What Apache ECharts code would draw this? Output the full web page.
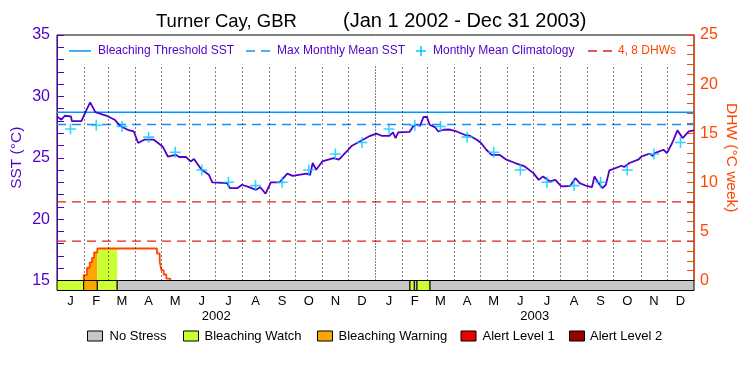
<!DOCTYPE html>
<html><head><meta charset="utf-8">
<script src="https://cdn.jsdelivr.net/npm/echarts@6/dist/echarts.min.js"></script>
<style>html,body{margin:0;padding:0;background:#fff}#c{width:750px;height:375px}</style>
</head><body><div id="c"></div>
<script>
// ---------- data ----------
const monthLetters = ['J','F','M','A','M','J','J','A','S','O','N','D'];
const monthLengths = [31,28,31,30,31,30,31,31,30,31,30,31];
const years = ['2002','2003'];
const sstDays = [0,2,5,9,16,17,28,33,38,44,57,66,72,81,88,93,100,111,121,127,136,140,148,153,157,165,174,178,195,198,207,212,220,228,233,239,245,255,264,270,286,290,293,297,304,317,323,332,338,347,359,366,372,381,385,388,391,404,408,412,416,420,424,427,433,437,443,450,458,467,473,481,486,492,498,507,515,525,536,546,552,557,565,571,578,588,594,599,607,613,616,620,625,629,633,637,647,650,656,666,670,679,683,685,695,699,705,711,717,724,730];
const sstVals = [28.37,28.5,28.1,28.42,28.37,27.99,27.99,28.77,29.51,28.72,28.42,28.1,27.61,27.28,27.14,26.2,26.47,26.47,25.92,25.1,25.24,25.06,25.06,24.7,24.9,24.08,23.62,22.99,22.94,22.53,22.53,22.8,22.6,22.39,22.6,22.07,22.99,22.99,23.7,23.53,23.7,23.6,24.57,24.02,24.7,24.97,24.84,25.51,25.98,26.33,26.79,26.96,26.79,26.79,27.06,26.6,27.06,27.1,27.55,27.69,27.6,28.32,28.32,27.69,27.5,27.14,27.28,27.3,27.14,26.87,26.8,26.47,26.2,25.65,25.24,25.24,24.84,24.57,24.29,23.75,23.2,23.48,23.07,23.2,22.66,22.7,23.34,22.93,22.7,22.6,23.48,22.99,22.53,22.8,23.97,24.07,24.35,24.25,24.57,24.84,25.1,25.33,25.15,25.38,25.65,25.38,26.2,27.23,26.6,27.14,27.23];
const climVals = [27.35,27.65,27.55,26.68,25.45,24.0,23.0,22.73,23.0,24.0,25.3,26.25];
const bleachThreshold = 28.7;
const maxMonthlyMean = 27.7;
const dhwLevels = [4, 8];
const dhwDays = [30.6,30.6,34.4,37.5,40.1,42.5,46.2,114.6,117.7,119.6,122.2,125.3,129.9];
const dhwVals = [0,0.55,1.3,1.85,2.3,2.85,3.26,2.75,1.9,1.06,0.61,0.2,0];
const stressStart = [0,30.6,46.2,69,404.5,409.5,412.6,427.5];
const stressEnd   = [30.6,46.2,69,404.5,409.5,412.6,427.5,730];
const stressLevel = [1,2,1,0,1,0,1,0];
const stressNames = ['No Stress','Bleaching Watch','Bleaching Warning','Alert Level 1','Alert Level 2'];

// ---------- styling ----------
const FONT = '"Liberation Sans", Arial, sans-serif';
const PURPLE = '#5000C8', ORANGE = '#FF4600', THR = '#0096FF', MMMC = '#1E8CFF', CLIM = '#00C8FF', REDL = '#E81E1E';
const stressColors = ['#C8C8C8','#CCFF33','#FFA500','#EE0000','#990000'];

// ---------- derived ----------
const monthStarts = [], monthMids = [], monthIdx = [];
let acc = 0;
for (let y = 0; y < years.length; y++) {
  for (let m = 0; m < 12; m++) {
    monthStarts.push(acc);
    monthMids.push(acc + monthLengths[m] / 2);
    monthIdx.push(m);
    acc += monthLengths[m];
  }
}
const totalDays = acc;
const yearMids = years.map((_, i) => 365 * i + 182.5);
const climData = monthMids.map((d, i) => [d, climVals[monthIdx[i]]]);
const sstData = sstDays.map((d, i) => [d, sstVals[i]]);
const dhwData = dhwDays.map((d, i) => [d, dhwVals[i]]);
function dhwAt(t) { let v = 0; for (let i = 0; i < dhwDays.length; i++) { if (dhwDays[i] <= t) v = dhwVals[i]; } return v; }
const fillSeries = [];
stressStart.forEach((s, k) => {
  const e = stressEnd[k], lvl = stressLevel[k];
  if (lvl === 0) return;
  const pts = [[s, dhwAt(s)]];
  dhwDays.forEach((d, i) => { if (d > s && d < e) pts.push([d, dhwVals[i]]); });
  pts.push([e, dhwAt(e)]);
  if (pts.every(p => p[1] === 0)) return;
  fillSeries.push({
    type: 'line', xAxisIndex: 0, yAxisIndex: 1, step: 'end', data: pts, symbol: 'none',
    lineStyle: { width: 0 }, areaStyle: { color: stressColors[lvl], opacity: 1 }, silent: true, z: 2
  });
});
const monthLines = monthStarts.filter(d => d > 0).map(d => [
  { coord: [d, 15], lineStyle: { color: '#000', width: 1, type: d === 365 ? [1, 2] : [1, 3] } },
  { coord: [d, 32.6] }
]);

const option = {
  animation: false,
  backgroundColor: '#fff',
  title: [
    { text: 'Turner Cay, GBR', left: 156, top: 12, padding: 0, textStyle: { fontSize: 18.5, fontWeight: 'normal', color: '#000', fontFamily: FONT } },
    { text: '(Jan 1 2002 - Dec 31 2003)', left: 343, top: 11, padding: 0, textStyle: { fontSize: 20, fontWeight: 'normal', color: '#000', fontFamily: FONT } }
  ],
  grid: [
    { left: 57, right: 56, top: 35, height: 245.5, show: true, borderColor: '#000', borderWidth: 1, backgroundColor: 'transparent', outerBoundsMode: 'none' },
    { left: 57, right: 56, top: 280.5, height: 10, outerBoundsMode: 'none' }
  ],
  xAxis: [
    { gridIndex: 0, type: 'value', min: 0, max: totalDays, show: false },
    { gridIndex: 1, type: 'value', min: 0, max: totalDays, position: 'bottom',
      axisLine: { show: false }, axisTick: { show: false }, splitLine: { show: false },
      axisLabel: { customValues: monthMids, margin: 4, fontSize: 13, color: '#000', fontFamily: FONT,
        formatter: v => { let bi = 0; monthMids.forEach((m, i) => { if (Math.abs(m - v) < Math.abs(monthMids[bi] - v)) bi = i; }); return monthLetters[monthIdx[bi]]; } } },
    { gridIndex: 1, type: 'value', min: 0, max: totalDays, position: 'bottom',
      axisLine: { show: false }, axisTick: { show: false }, splitLine: { show: false },
      axisLabel: { customValues: yearMids, margin: 19, fontSize: 13, color: '#000', fontFamily: FONT,
        formatter: v => years[v < 365 ? 0 : 1] } }
  ],
  yAxis: [
    { gridIndex: 0, type: 'value', position: 'left', min: 15, max: 35, interval: 5,
      axisLine: { show: true, lineStyle: { color: PURPLE, width: 1 } },
      axisTick: { show: true, inside: true, length: 7, lineStyle: { color: PURPLE } },
      minorTick: { show: true, splitNumber: 5, length: 7, lineStyle: { color: PURPLE } },
      splitLine: { show: false },
      axisLabel: { color: PURPLE, fontSize: 16, margin: 7, fontFamily: FONT },
      name: 'SST (°C)', nameLocation: 'middle', nameGap: 32, nameMoveOverlap: false,
      nameTextStyle: { color: PURPLE, fontSize: 15.5, fontFamily: FONT } },
    { gridIndex: 0, type: 'value', position: 'right', min: 0, max: 25, interval: 5,
      axisLine: { show: true, lineStyle: { color: ORANGE, width: 1 } },
      axisTick: { show: true, inside: true, length: 7, lineStyle: { color: ORANGE } },
      minorTick: { show: true, splitNumber: 5, length: 7, lineStyle: { color: ORANGE } },
      splitLine: { show: false },
      axisLabel: { color: ORANGE, fontSize: 16, margin: 6, fontFamily: FONT },
      name: 'DHW (°C week)', nameLocation: 'middle', nameGap: 29, nameRotate: -90, nameMoveOverlap: false,
      nameTextStyle: { color: ORANGE, fontSize: 15.5, fontFamily: FONT } },
    { gridIndex: 1, type: 'value', min: 0, max: 1, show: false }
  ],
  graphic: { elements: [
    { type: 'line', shape: { x1: 69, y1: 51, x2: 91, y2: 51 }, style: { stroke: THR, lineWidth: 1.5 }, z: 100 },
    { type: 'text', x: 98, y: 51, style: { text: 'Bleaching Threshold SST', fill: PURPLE, font: '12px ' + FONT, verticalAlign: 'middle' }, z: 100 },
    { type: 'line', shape: { x1: 246, y1: 51, x2: 270, y2: 51 }, style: { stroke: MMMC, lineWidth: 1.5, lineDash: [9, 6] }, z: 100 },
    { type: 'text', x: 277, y: 51, style: { text: 'Max Monthly Mean SST', fill: PURPLE, font: '12px ' + FONT, verticalAlign: 'middle' }, z: 100 },
    { type: 'line', shape: { x1: 416, y1: 51, x2: 426, y2: 51 }, style: { stroke: CLIM, lineWidth: 1.5 }, z: 100 },
    { type: 'line', shape: { x1: 421, y1: 46, x2: 421, y2: 56 }, style: { stroke: CLIM, lineWidth: 1.5 }, z: 100 },
    { type: 'text', x: 433, y: 51, style: { text: 'Monthly Mean Climatology', fill: PURPLE, font: '12px ' + FONT, verticalAlign: 'middle' }, z: 100 },
    { type: 'line', shape: { x1: 588, y1: 51, x2: 612, y2: 51 }, style: { stroke: REDL, lineWidth: 1.5, lineDash: [9, 6] }, z: 100 },
    { type: 'text', x: 618, y: 51, style: { text: '4, 8 DHWs', fill: ORANGE, font: '12px ' + FONT, verticalAlign: 'middle' }, z: 100 },
    ...[87.5, 183.5, 317.5, 461, 569.5].map((x, i) => ({ type: 'rect', shape: { x: x, y: 331, width: 15, height: 10 }, style: { fill: stressColors[i], stroke: '#000', lineWidth: 1 }, z: 100 })),
    ...[109.5, 204.5, 338.5, 482.5, 590].map((x, i) => ({ type: 'text', x: x, y: 336.5, style: { text: stressNames[i], fill: '#000', font: '13px ' + FONT, verticalAlign: 'middle' }, z: 100 }))
  ] },
  series: [
    { type: 'line', name: 'Bleaching Threshold SST', xAxisIndex: 0, yAxisIndex: 0, data: [[0, bleachThreshold], [totalDays, bleachThreshold]],
      symbol: 'none', lineStyle: { color: THR, width: 1.5 }, z: 3, silent: true,
      markLine: { silent: true, symbol: 'none', label: { show: false }, data: monthLines, animation: false } },
    { type: 'line', name: 'Max Monthly Mean SST', xAxisIndex: 0, yAxisIndex: 0, data: [[0, maxMonthlyMean], [totalDays, maxMonthlyMean]],
      symbol: 'none', lineStyle: { color: MMMC, width: 1.5, type: [9, 6] }, z: 3, silent: true },
    ...dhwLevels.map(l => ({ type: 'line', xAxisIndex: 0, yAxisIndex: 1, data: [[0, l], [totalDays, l]], symbol: 'none',
      lineStyle: { color: REDL, width: 1.2, type: [9, 6] }, z: 3, silent: true })),
    ...fillSeries,
    { type: 'line', name: 'DHW', xAxisIndex: 0, yAxisIndex: 1, step: 'end', data: dhwData, symbol: 'none',
      lineStyle: { color: ORANGE, width: 1.8 }, z: 4, silent: true },
    { type: 'scatter', name: 'Monthly Mean Climatology', xAxisIndex: 0, yAxisIndex: 0, data: climData,
      symbol: 'path://M4.3,0H5.7V4.3H10V5.7H5.7V10H4.3V5.7H0V4.3H4.3Z', symbolSize: 11,
      itemStyle: { color: CLIM }, z: 6, silent: true },
    { type: 'line', name: 'SST', xAxisIndex: 0, yAxisIndex: 0, data: sstData, symbol: 'none',
      lineStyle: { color: PURPLE, width: 1.8 }, z: 5, silent: true },
    { type: 'custom', xAxisIndex: 1, yAxisIndex: 2, silent: true, z: 5,
      data: stressStart.map((s, i) => [s, stressEnd[i], stressLevel[i]]),
      encode: { x: [0, 1], y: 2 },
      renderItem: (params, api) => {
        const a = api.coord([api.value(0), 1]);
        const b = api.coord([api.value(1), 0]);
        return { type: 'rect', shape: { x: a[0], y: a[1], width: b[0] - a[0], height: b[1] - a[1] },
          style: { fill: stressColors[api.value(2)], stroke: '#000', lineWidth: 1 } };
      } }
  ]
};
const chart = echarts.init(document.getElementById('c'), null, { renderer: 'canvas' });
chart.setOption(option);
</script></body></html>
